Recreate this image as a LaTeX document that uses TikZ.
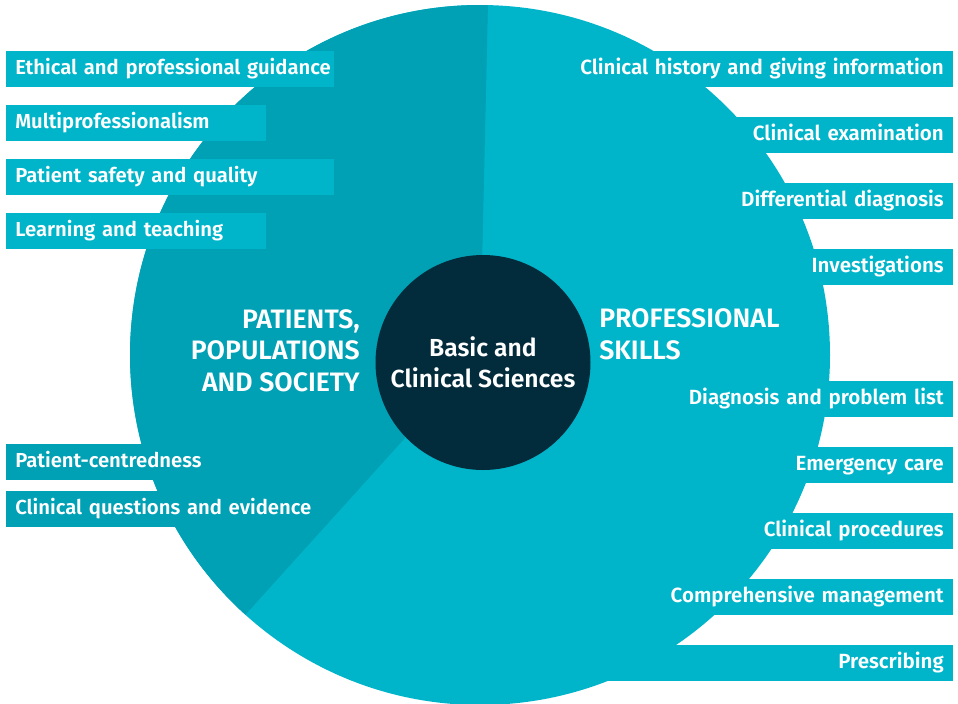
\documentclass[tikz,border=0pt]{standalone}
\usepackage{fontspec}
\setmainfont{Fira Sans}[UprightFont={* SemiBold}]
\definecolor{cyanlight}{HTML}{00B5CA}
\definecolor{cyandark}{HTML}{00A0B5}
\definecolor{navycore}{HTML}{022B3B}
\begin{document}
\begin{tikzpicture}
        [x=0.75pt,y=-0.75pt,
        leftdecorate/.style={anchor=north west,text=white,inner xsep=6.75pt,inner ysep=0pt,
          minimum height=27pt,text height=10.5pt,text depth=3pt,align=left,
          font=\fontsize{15.2}{18}\selectfont},
        rightdecorate/.style={anchor=north east,fill=cyanlight,text=white,inner xsep=6.75pt,inner ysep=0pt,
          minimum height=27pt,text height=10.5pt,text depth=3pt,text width=281.25pt,align=right,
          font=\fontsize{15.4}{18}\selectfont},
        headdecorate/.style={text=white,inner sep=0pt,font=\fontsize{20}{23.6}\selectfont}]
        \useasboundingbox (0,0) rectangle (958,704);
        %% disc and left segment
        \coordinate (ctr) at (480,355);
        \fill[cyanlight] (ctr) circle[radius=350];
        \fill[cyandark] (ctr) -- ++(-88.7:350) arc[start angle=-88.7,end angle=-227.9,radius=350] -- cycle;
        %% left boxes
        \foreach \boxname/\y/\boxw/\col/\txt in {ethic/51/232.5/cyanlight/Ethical and professional guidance,
          multi/105/181.5/cyanlight/Multiprofessionalism, safety/159/232.5/cyanlight/Patient safety and quality,
          learn/213/181.5/cyanlight/Learning and teaching, centred/444/181.5/cyandark/Patient-centredness,
          evidence/491/222.75/cyandark/Clinical questions and evidence}
        {
          \node[leftdecorate,fill=\col,text width=\boxw pt] (\boxname) at (6,\y) {\mbox{\txt}};
        }
        %% right boxes
        \foreach \boxname/\y/\txt in {history/51/Clinical history and giving information,
          exam/117/Clinical examination, ddx/183/Differential diagnosis, invest/249/Investigations,
          dxlist/381/Diagnosis and problem list, emerg/447/Emergency care, proc/513/Clinical procedures,
          manage/579/Comprehensive management, presc/645/Prescribing}
        {
          \node[rightdecorate] (\boxname) at (953,\y) {\mbox{\txt}};
        }
        %% centre and headings
        \node[circle,fill=navycore,minimum size=161.25pt,inner sep=0pt,text=white,align=center,
          font=\fontsize{18.5}{23.3}\selectfont] (core) at (483,362.5) {Basic and\\Clinical Sciences};
        \node[headdecorate,anchor=east,align=right] (ppslabel) at (360,350.5) {PATIENTS,\\POPULATIONS\\AND SOCIETY};
        \node[headdecorate,anchor=west,align=left] (skillslabel) at (599,334.5) {PROFESSIONAL\\SKILLS};
      \end{tikzpicture}
\end{document}
